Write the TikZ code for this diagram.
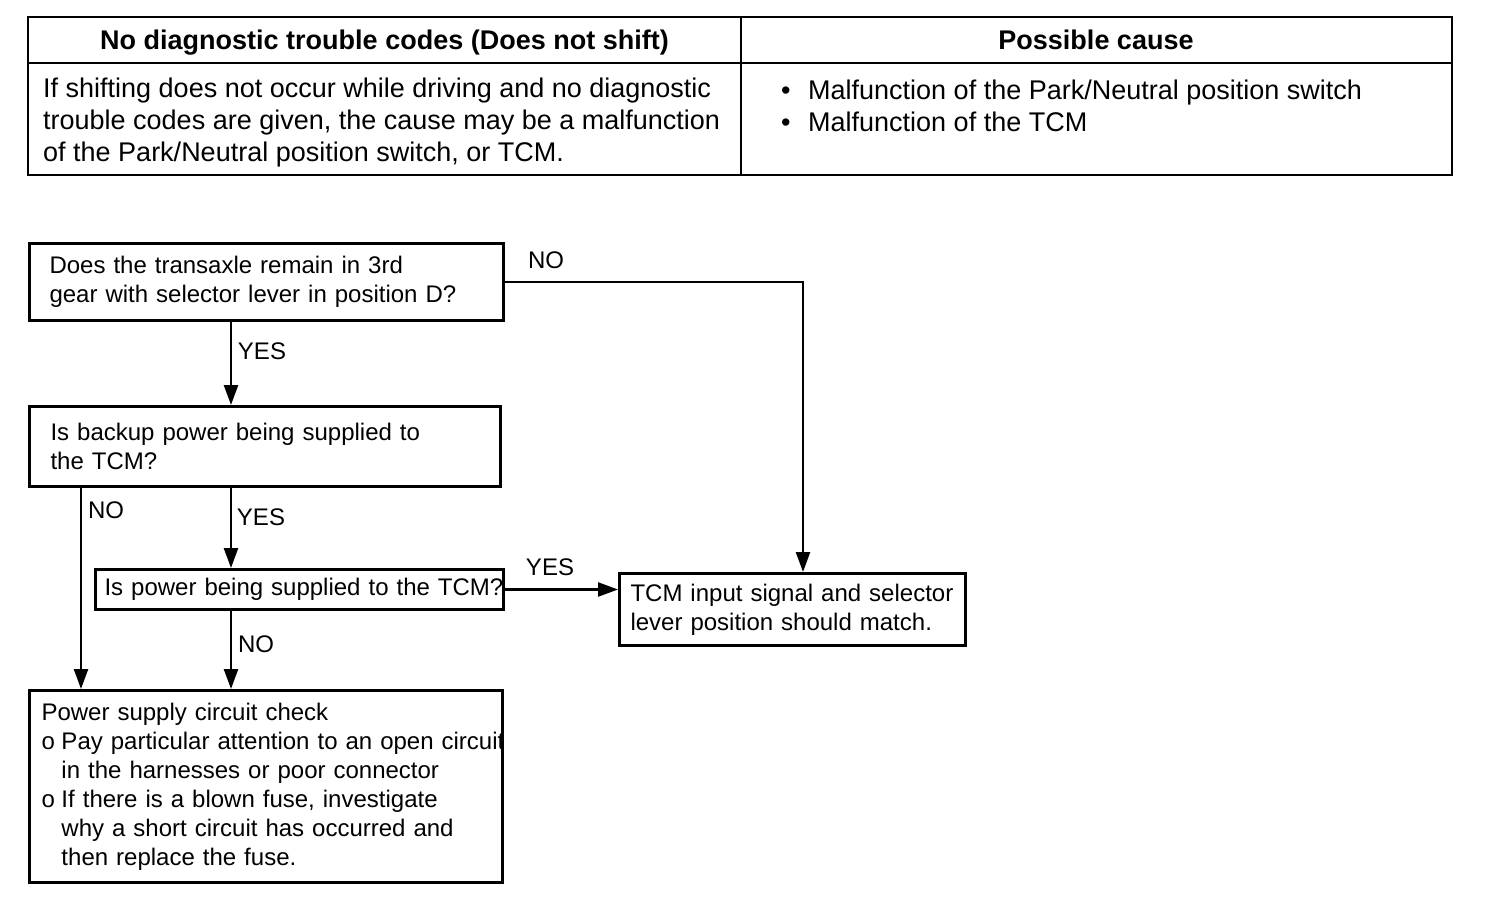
\documentclass[tikz,border=0pt]{standalone}
\usepackage{fontspec}
\setmainfont{Liberation Sans}
\usetikzlibrary{arrows.meta}

\newcommand{\tabfont}{\fontsize{27}{32}\selectfont}
\newcommand{\flowfont}{\fontsize{24}{29}\selectfont}
\newcommand{\oitem}{\makebox[20pt][l]{o}}

\tikzset{
  box/.style={draw, line width=3pt, align=left, anchor=north west, inner ysep=0pt, font=\flowfont},
  arr/.style={line width=2.5pt, -{Triangle[length=20pt,width=14pt]}},
  lab/.style={font=\flowfont, inner sep=0pt},
}

\begin{document}
\begin{tikzpicture}[x=1pt,y=-1pt]
\useasboundingbox (0,0) rectangle (1504,920);

% table
\draw [line width=2.5pt] (28,17) rectangle (1452,175);
\draw [line width=2pt] (28,63) -- (1452,63);
\draw [line width=2pt] (741,17) -- (741,175);
\node [font=\tabfont\bfseries, anchor=base, inner sep=0pt] (head1) at (384.5,50) {No diagnostic trouble codes (Does not shift)};
\node [font=\tabfont\bfseries, anchor=base, inner sep=0pt] (head2) at (1096,50) {Possible cause};
\node [font=\tabfont, align=left, anchor=west, inner sep=0pt] (desc) at (43,123)
  {If shifting does not occur while driving and no diagnostic\\
   trouble codes are given, the cause may be a malfunction\\
   of the Park/Neutral position switch, or TCM.};
\node [font=\tabfont, align=left, anchor=west, inner sep=0pt] (cause) at (781,106)
  {\makebox[27pt][l]{•}Malfunction of the Park/Neutral position switch\\
   \makebox[27pt][l]{•}Malfunction of the TCM};

% flowchart
\node [box, text width=434pt, inner xsep=20pt, minimum height=77pt] (q1) at (28,242)
  {Does the transaxle remain in 3rd\\ gear with selector lever in position D?};
\node [box, text width=429pt, inner xsep=21pt, minimum height=80pt] (q2) at (28,405)
  {Is backup power being supplied to\\ the TCM?};
\node [box, text width=390pt, inner xsep=9pt, minimum height=40pt] (q3) at (94,568)
  {\mbox{Is power being supplied to the TCM?}};
\node [box, text width=324pt, inner xsep=11pt, minimum height=72pt] (tcm) at (618,572)
  {TCM input signal and selector\\ lever position should match.};
\node [box, text width=449pt, inner xsep=12pt, minimum height=192pt] (chk) at (28,689)
  {Power supply circuit check\\
   \oitem\mbox{Pay particular attention to an open circuit}\\
   \hspace*{20pt}in the harnesses or poor connector\\
   \oitem If there is a blown fuse, investigate\\
   \hspace*{20pt}why a short circuit has occurred and\\
   \hspace*{20pt}then replace the fuse.};

\coordinate (mid) at (231,0);
\coordinate (left) at (81,0);
\coordinate (right) at (803,0);

\draw [arr] (q1.east) -| (q1.east -| right) -- (tcm.north -| right);
\draw [arr] (q1.south -| mid) -- (q2.north -| mid);
\draw [arr] (q2.south -| mid) -- (q3.north -| mid);
\draw [arr] (q2.south -| left) -- (chk.north -| left);
\draw [arr] (q3.east) -- (q3.east -| tcm.west);
\draw [arr] (q3.south -| mid) -- (chk.north -| mid);

\node [lab] (no1) at (546,260) {NO};
\node [lab] (yes1) at (262,351) {YES};
\node [lab] (no2) at (106,510) {NO};
\node [lab] (yes2) at (261,517) {YES};
\node [lab] (yes3) at (550,567) {YES};
\node [lab] (no3) at (256,644) {NO};
\end{tikzpicture}
\end{document}
